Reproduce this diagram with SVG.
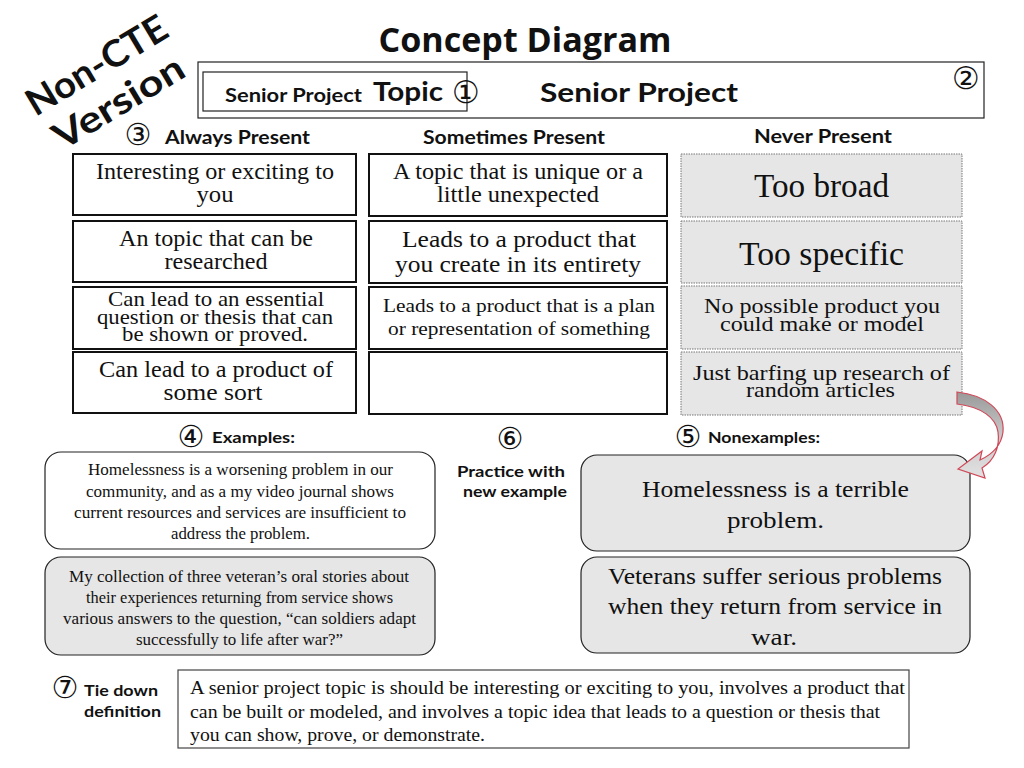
<svg xmlns="http://www.w3.org/2000/svg" width="1024" height="768" viewBox="0 0 1024 768">
<defs>
<style>
.hand{font-family:"Lato","DejaVu Sans",sans-serif;font-weight:bold;fill:#111}
.num{font-family:"DejaVu Sans",sans-serif;fill:#111}
.serif{font-family:"Liberation Serif","Times New Roman",serif;fill:#111}
.box{fill:#fff;stroke:#111;stroke-width:2}
.never{fill:#e6e6e6;stroke:#777;stroke-width:1;stroke-dasharray:1.5 1}
.ex{fill:#fff;stroke:#222;stroke-width:1.2}
.exg{fill:#e6e6e6;stroke:#222;stroke-width:1.2}
</style>
<linearGradient id="arrowGrad" x1="0" y1="0" x2="0" y2="1">
<stop offset="0" stop-color="#999"/>
<stop offset="0.5" stop-color="#c8c8c8"/>
<stop offset="1" stop-color="#e2e2e2"/>
</linearGradient>
</defs>
<rect width="1024" height="768" fill="#fff"/>

<g id="title">
<text x="525" y="52" text-anchor="middle" font-family="Open Sans, Noto Sans, sans-serif" font-weight="bold" font-size="34" fill="#111" textLength="293" lengthAdjust="spacingAndGlyphs">Concept Diagram</text>
</g>
<g id="version">
<text class="hand" x="97" y="78" text-anchor="middle" font-size="37" transform="rotate(-31 97 66)" textLength="158" lengthAdjust="spacingAndGlyphs">Non-CTE</text>
<text class="hand" x="119" y="115" text-anchor="middle" font-size="37" transform="rotate(-31 119 103)" textLength="146" lengthAdjust="spacingAndGlyphs">Version</text>
</g>

<g id="header">
<rect x="198" y="62" width="786" height="56" fill="#fff" stroke="#222" stroke-width="1.2"/>
<rect x="203" y="72" width="264" height="39" fill="none" stroke="#222" stroke-width="1.2"/>
<text class="hand" x="225" y="102" font-size="18" textLength="137" lengthAdjust="spacingAndGlyphs">Senior Project</text>
<text class="hand" x="373" y="101" font-size="26" textLength="70" lengthAdjust="spacingAndGlyphs">Topic</text>
<text class="num" x="466" y="103" text-anchor="middle" font-size="31">①</text>
<text class="hand" x="639" y="102" text-anchor="middle" font-size="27" textLength="198" lengthAdjust="spacingAndGlyphs">Senior Project</text>
<text class="num" x="966" y="89" text-anchor="middle" font-size="31">②</text>
</g>

<g id="col-headers">
<text class="num" x="138" y="145" text-anchor="middle" font-size="30">③</text>
<text class="hand" x="165" y="144" font-size="18" textLength="145" lengthAdjust="spacingAndGlyphs">Always Present</text>
<text class="hand" x="514" y="144" text-anchor="middle" font-size="18" textLength="182" lengthAdjust="spacingAndGlyphs">Sometimes Present</text>
<text class="hand" x="823" y="143" text-anchor="middle" font-size="18" textLength="138" lengthAdjust="spacingAndGlyphs">Never Present</text>
</g>

<g id="always-1"><rect class="box" x="73" y="154" width="283" height="61"/>
<text class="serif" x="215" y="179" text-anchor="middle" font-size="23" textLength="238" lengthAdjust="spacingAndGlyphs">Interesting or exciting to</text>
<text class="serif" x="215" y="202" text-anchor="middle" font-size="23" textLength="37" lengthAdjust="spacingAndGlyphs">you</text></g>
<g id="always-2"><rect class="box" x="73" y="221" width="283" height="61"/>
<text class="serif" x="216" y="246" text-anchor="middle" font-size="23" textLength="194" lengthAdjust="spacingAndGlyphs">An topic that can be</text>
<text class="serif" x="216" y="269" text-anchor="middle" font-size="23" textLength="103" lengthAdjust="spacingAndGlyphs">researched</text></g>
<g id="always-3"><rect class="box" x="73" y="287" width="283" height="62"/>
<text class="serif" x="216" y="306" text-anchor="middle" font-size="21" textLength="216" lengthAdjust="spacingAndGlyphs">Can lead to an essential</text>
<text class="serif" x="215" y="324" text-anchor="middle" font-size="21" textLength="236" lengthAdjust="spacingAndGlyphs">question or thesis that can</text>
<text class="serif" x="215" y="341" text-anchor="middle" font-size="21" textLength="186" lengthAdjust="spacingAndGlyphs">be shown or proved.</text></g>
<g id="always-4"><rect class="box" x="73" y="352" width="283" height="61"/>
<text class="serif" x="216" y="377" text-anchor="middle" font-size="23" textLength="234" lengthAdjust="spacingAndGlyphs">Can lead to a product of</text>
<text class="serif" x="213" y="400" text-anchor="middle" font-size="23" textLength="99" lengthAdjust="spacingAndGlyphs">some sort</text></g>

<g id="sometimes-1"><rect class="box" x="369" y="154" width="298" height="62"/>
<text class="serif" x="518" y="179" text-anchor="middle" font-size="23" textLength="250" lengthAdjust="spacingAndGlyphs">A topic that is unique or a</text>
<text class="serif" x="518" y="202" text-anchor="middle" font-size="23" textLength="162" lengthAdjust="spacingAndGlyphs">little unexpected</text></g>
<g id="sometimes-2"><rect class="box" x="369" y="221" width="298" height="62"/>
<text class="serif" x="519" y="247" text-anchor="middle" font-size="24" textLength="234" lengthAdjust="spacingAndGlyphs">Leads to a product that</text>
<text class="serif" x="518" y="272" text-anchor="middle" font-size="24" textLength="246" lengthAdjust="spacingAndGlyphs">you create in its entirety</text></g>
<g id="sometimes-3"><rect class="box" x="369" y="287" width="298" height="62"/>
<text class="serif" x="519" y="312" text-anchor="middle" font-size="19.5" textLength="272" lengthAdjust="spacingAndGlyphs">Leads to a product that is a plan</text>
<text class="serif" x="519" y="335" text-anchor="middle" font-size="19.5" textLength="262" lengthAdjust="spacingAndGlyphs">or representation of something</text></g>
<g id="sometimes-4"><rect class="box" x="369" y="352" width="298" height="62"/></g>

<g id="never-1"><rect class="never" x="681" y="154" width="281" height="63"/>
<text class="serif" x="821.5" y="197" text-anchor="middle" font-size="33" textLength="135" lengthAdjust="spacingAndGlyphs">Too broad</text></g>
<g id="never-2"><rect class="never" x="681" y="221" width="281" height="62"/>
<text class="serif" x="821.5" y="265" text-anchor="middle" font-size="33" textLength="165" lengthAdjust="spacingAndGlyphs">Too specific</text></g>
<g id="never-3"><rect class="never" x="681" y="286" width="281" height="63"/>
<text class="serif" x="822" y="313" text-anchor="middle" font-size="22" textLength="236" lengthAdjust="spacingAndGlyphs">No possible product you</text>
<text class="serif" x="822" y="331" text-anchor="middle" font-size="22" textLength="204" lengthAdjust="spacingAndGlyphs">could make or model</text></g>
<g id="never-4"><rect class="never" x="681" y="352" width="281" height="63"/>
<text class="serif" x="821.5" y="380" text-anchor="middle" font-size="22" textLength="257" lengthAdjust="spacingAndGlyphs">Just barfing up research of</text>
<text class="serif" x="820.5" y="397" text-anchor="middle" font-size="22" textLength="149" lengthAdjust="spacingAndGlyphs">random articles</text></g>

<g id="section-labels">
<text class="num" x="191" y="447" text-anchor="middle" font-size="30">④</text>
<text class="hand" x="212" y="443" font-size="15" textLength="83" lengthAdjust="spacingAndGlyphs">Examples:</text>
<text class="num" x="510" y="449" text-anchor="middle" font-size="30">⑥</text>
<text class="hand" x="457" y="477" font-size="15" textLength="108" lengthAdjust="spacingAndGlyphs">Practice with</text>
<text class="hand" x="463" y="497" font-size="15" textLength="104" lengthAdjust="spacingAndGlyphs">new example</text>
<text class="num" x="688" y="447" text-anchor="middle" font-size="30">⑤</text>
<text class="hand" x="708" y="443" font-size="15" textLength="112" lengthAdjust="spacingAndGlyphs">Nonexamples:</text>
</g>

<g id="example-1"><rect class="ex" x="45" y="452" width="390" height="97" rx="16"/>
<text class="serif" x="240.5" y="475" text-anchor="middle" font-size="16" textLength="305" lengthAdjust="spacingAndGlyphs">Homelessness is a worsening problem in our</text>
<text class="serif" x="240" y="497" text-anchor="middle" font-size="16" textLength="308" lengthAdjust="spacingAndGlyphs">community, and as a my video journal shows</text>
<text class="serif" x="240" y="518" text-anchor="middle" font-size="16" textLength="332" lengthAdjust="spacingAndGlyphs">current resources and services are insufficient to</text>
<text class="serif" x="240.5" y="539" text-anchor="middle" font-size="16" textLength="139" lengthAdjust="spacingAndGlyphs">address the problem.</text></g>
<g id="example-2"><rect class="exg" x="45" y="557" width="390" height="98" rx="16"/>
<text class="serif" x="239" y="582" text-anchor="middle" font-size="16" textLength="340" lengthAdjust="spacingAndGlyphs">My collection of three veteran’s oral stories about</text>
<text class="serif" x="239.5" y="603" text-anchor="middle" font-size="16" textLength="307" lengthAdjust="spacingAndGlyphs">their experiences returning from service shows</text>
<text class="serif" x="239.5" y="624" text-anchor="middle" font-size="16" textLength="353" lengthAdjust="spacingAndGlyphs">various answers to the question, “can soldiers adapt</text>
<text class="serif" x="239.5" y="645" text-anchor="middle" font-size="16" textLength="207" lengthAdjust="spacingAndGlyphs">successfully to life after war?”</text></g>

<g id="nonexample-1"><rect class="exg" x="581" y="455" width="389" height="96" rx="16"/>
<text class="serif" x="775.5" y="497" text-anchor="middle" font-size="24" textLength="267" lengthAdjust="spacingAndGlyphs">Homelessness is a terrible</text>
<text class="serif" x="775.5" y="528" text-anchor="middle" font-size="24" textLength="97" lengthAdjust="spacingAndGlyphs">problem.</text></g>
<g id="nonexample-2"><rect class="exg" x="581" y="557" width="389" height="96" rx="16"/>
<text class="serif" x="775" y="584" text-anchor="middle" font-size="24" textLength="334" lengthAdjust="spacingAndGlyphs">Veterans suffer serious problems</text>
<text class="serif" x="775" y="614" text-anchor="middle" font-size="24" textLength="334" lengthAdjust="spacingAndGlyphs">when they return from service in</text>
<text class="serif" x="774" y="645" text-anchor="middle" font-size="24" textLength="46" lengthAdjust="spacingAndGlyphs">war.</text></g>

<g id="definition">
<text class="num" x="65" y="698" text-anchor="middle" font-size="30">⑦</text>
<text class="hand" x="84" y="696" font-size="15" textLength="74" lengthAdjust="spacingAndGlyphs">Tie down</text>
<text class="hand" x="84" y="717" font-size="15" textLength="77" lengthAdjust="spacingAndGlyphs">definition</text>
<rect x="178" y="670" width="731" height="78" fill="#fff" stroke="#444" stroke-width="1.2"/>
<text class="serif" x="190" y="694" font-size="18" textLength="715" lengthAdjust="spacingAndGlyphs">A senior project topic is should be interesting or exciting to you, involves a product that</text>
<text class="serif" x="190" y="718" font-size="18" textLength="690" lengthAdjust="spacingAndGlyphs">can be built or modeled, and involves a topic idea that leads to a question or thesis that</text>
<text class="serif" x="190" y="741" font-size="18" textLength="295" lengthAdjust="spacingAndGlyphs">you can show, prove, or demonstrate.</text>
</g>

<g id="connectors">
<path d="M957,392 C985,395 1005,410 1003,432 C1001,447 991,455 980,460 L982,451 L958,469 L985,478 L982,468 C995,460 1000,446 998,432 C996,418 982,407 957,404 Z" fill="url(#arrowGrad)" stroke="#d04858" stroke-width="1.2"/>
</g>
</svg>
